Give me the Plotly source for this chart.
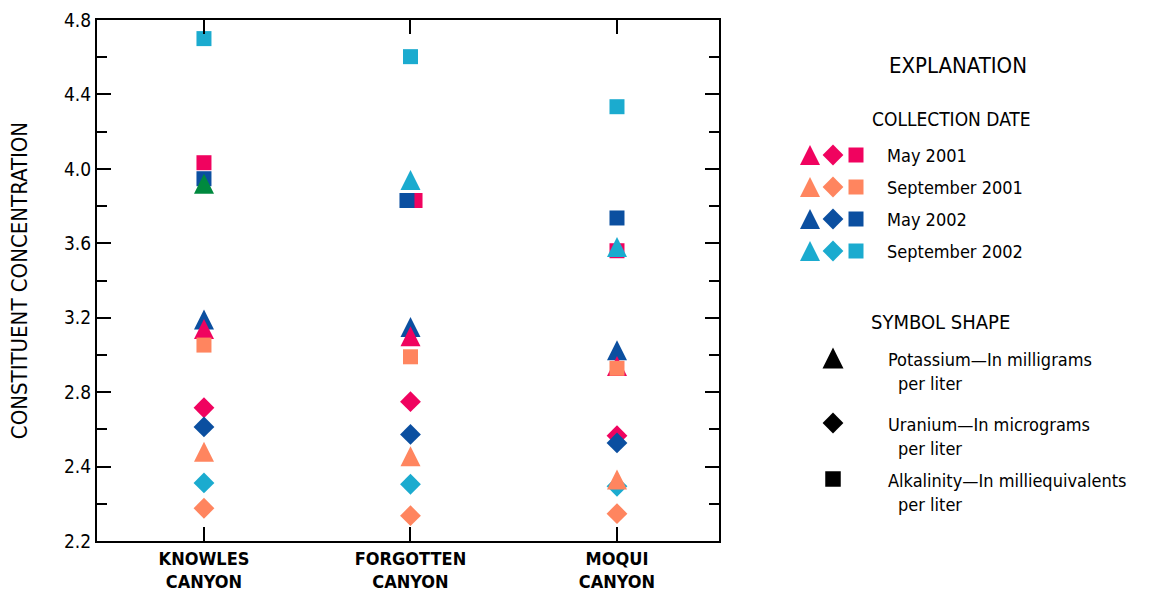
import plotly.graph_objects as go

# ---------------- data ----------------
canyons = ["KNOWLES<br>CANYON", "FORGOTTEN<br>CANYON", "MOQUI<br>CANYON"]
dates = ["May 2001", "September 2001", "May 2002", "September 2002"]
constituents = ["Potassium", "Uranium", "Alkalinity"]

# values for [Knowles, Forgotten, Moqui]
potassium_may_2001 = [3.14, 3.10, 2.94]
potassium_sep_2001 = [2.48, 2.455, 2.33]
potassium_may_2002 = [3.19, 3.15, 3.025]
potassium_sep_2002 = [3.92, 3.94, 3.58]

uranium_may_2001 = [2.716, 2.749, 2.566]
uranium_sep_2001 = [2.176, 2.136, 2.147]
uranium_may_2002 = [2.613, 2.573, 2.527]
uranium_sep_2002 = [2.312, 2.305, 2.294]

alkalinity_may_2001 = [4.033, 3.83, 3.56]
alkalinity_sep_2001 = [3.053, 2.99, 2.928]
alkalinity_may_2002 = [3.947, 3.83, 3.736]
alkalinity_sep_2002 = [4.70, 4.603, 4.334]

y_tick_values = [2.0, 2.4, 2.8, 3.2, 3.6, 4.0, 4.4, 4.8]
y_tick_labels = ["2.2", "2.4", "2.8", "3.2", "3.6", "4.0", "4.4", "4.8"]

legend_shape_labels = [
    ("Potassium\u2014In milligrams", "per liter"),
    ("Uranium\u2014In micrograms", "per liter"),
    ("Alkalinity\u2014In milliequivalents", "per liter"),
]

# ---------------- style ----------------
FONT = "DejaVu Sans Condensed, DejaVu Sans, sans-serif"
date_colors = {
    "May 2001": "#F0035F",
    "September 2001": "#FF855F",
    "May 2002": "#0B4FA0",
    "September 2002": "#1BABCF",
}
color_override = {("September 2002", "Potassium", 0): "#00893E"}
nudge = {("May 2002", "Alkalinity", 1): -0.017, ("May 2001", "Alkalinity", 1): 0.022}

TRI = dict(symbol="arrow-down", angle=180, size=20, standoff=10)
DIA = dict(symbol="diamond", size=16)
SQ = dict(symbol="square", size=15)
shape_style = {"Potassium": TRI, "Uranium": DIA, "Alkalinity": SQ}

rank = {
    ("May 2001", "Uranium"): 0, ("May 2002", "Uranium"): 1,
    ("September 2002", "Uranium"): 2, ("September 2001", "Uranium"): 3,
    ("May 2002", "Potassium"): 4, ("May 2001", "Potassium"): 5,
    ("September 2001", "Potassium"): 6, ("May 2002", "Alkalinity"): 7,
    ("May 2001", "Alkalinity"): 8, ("September 2001", "Alkalinity"): 9,
    ("September 2002", "Alkalinity"): 10, ("September 2002", "Potassium"): 11,
}
rank_override = {("May 2002", "Alkalinity", 1): 8.5}

series = {
    ("May 2001", "Potassium"): potassium_may_2001,
    ("September 2001", "Potassium"): potassium_sep_2001,
    ("May 2002", "Potassium"): potassium_may_2002,
    ("September 2002", "Potassium"): potassium_sep_2002,
    ("May 2001", "Uranium"): uranium_may_2001,
    ("September 2001", "Uranium"): uranium_sep_2001,
    ("May 2002", "Uranium"): uranium_may_2002,
    ("September 2002", "Uranium"): uranium_sep_2002,
    ("May 2001", "Alkalinity"): alkalinity_may_2001,
    ("September 2001", "Alkalinity"): alkalinity_sep_2001,
    ("May 2002", "Alkalinity"): alkalinity_may_2002,
    ("September 2002", "Alkalinity"): alkalinity_sep_2002,
}

points = []
for (date, cons), vals in series.items():
    for i, v in enumerate(vals):
        key = (date, cons, i)
        r = rank_override.get(key, rank[(date, cons)])
        points.append((r, date, cons, i, v))
points.sort(key=lambda p: p[0])

fig = go.Figure()
for r, date, cons, i, v in points:
    key = (date, cons, i)
    m = dict(shape_style[cons])
    m["color"] = color_override.get(key, date_colors[date])
    m["line"] = dict(width=0)
    fig.add_trace(go.Scatter(
        x=[i + nudge.get(key, 0.0)], y=[v], mode="markers", marker=m,
        showlegend=False, name=f"{cons} {date}",
        hovertemplate=f"{canyons[i].replace('<br>', ' ')}<br>{cons} {date}: %{{y}}<extra></extra>",
    ))

# ---------------- explanation (legend) on a pixel-like helper axis ----------------
legend_rows_y = [155, 187, 219, 251]
shape_rows_y = [358, 423, 479]
shape_x = [810, 833, 856]
for row_y, date in zip(legend_rows_y, dates):
    for sx, cons in zip(shape_x, constituents):
        m = dict(shape_style[cons])
        m["color"] = date_colors[date]
        m["line"] = dict(width=0)
        fig.add_trace(go.Scatter(x=[sx], y=[row_y], mode="markers", marker=m,
                                 xaxis="x2", yaxis="y2", showlegend=False, hoverinfo="skip"))
legend_black = [dict(symbol="arrow-down", angle=180, size=21, standoff=10.5),
                dict(symbol="diamond", size=16), dict(symbol="square", size=15.5)]
for row_y, m in zip(shape_rows_y, legend_black):
    m = dict(m)
    m["color"] = "black"
    m["line"] = dict(width=0)
    fig.add_trace(go.Scatter(x=[833], y=[row_y], mode="markers", marker=m,
                             xaxis="x2", yaxis="y2", showlegend=False, hoverinfo="skip"))

annotations = []
def txt(x, y, s, size=18, anchor="left"):
    annotations.append(dict(x=x, y=y, xref="x2", yref="y2", text=s, showarrow=False,
                            xanchor=anchor, yanchor="middle",
                            font=dict(family=FONT, size=size, color="black")))

txt(958, 65, "EXPLANATION", 22, "center")
txt(951, 119, "COLLECTION DATE", 19, "center")
for row_y, date in zip(legend_rows_y, dates):
    txt(885, row_y, date)
txt(940, 322, "SYMBOL SHAPE", 20, "center")
for row_y, (l1, l2) in zip(shape_rows_y, legend_shape_labels):
    txt(886, row_y + 1, l1)
    txt(896, row_y + 25, l2)

fig.update_layout(
    width=1151, height=592,
    margin=dict(l=97, r=0, t=20, b=51),
    paper_bgcolor="white", plot_bgcolor="rgba(0,0,0,0)",
    font=dict(family=FONT, color="black"),
    annotations=annotations,
    xaxis=dict(
        domain=[0, 622 / 1054], range=[-0.518, 2.494], automargin=False,
        tickmode="array", tickvals=[0, 1, 2], ticktext=canyons,
        ticks="inside", ticklen=14, tickwidth=2, tickcolor="black",
        showline=True, linewidth=2, linecolor="black", mirror="ticks",
        showgrid=False, zeroline=False, ticklabelstandoff=0,
        tickfont=dict(family=FONT, size=18, color="black", weight="bold"),
    ),
    yaxis=dict(
        range=[2.0, 4.8], automargin=False,
        tickmode="array", tickvals=y_tick_values, ticktext=y_tick_labels,
        ticks="inside", ticklen=14, tickwidth=2, tickcolor="black",
        minor=dict(dtick=0.2, tick0=2.0, ticks="inside", ticklen=10, tickwidth=2, tickcolor="black"),
        showline=True, linewidth=2, linecolor="black", mirror="ticks",
        showgrid=False, zeroline=False,
        tickfont=dict(family=FONT, size=19, color="black"),
        title=dict(text="CONSTITUENT CONCENTRATION", font=dict(family=FONT, size=22, color="black"), standoff=30),
    ),
    xaxis2=dict(domain=[0, 1], range=[97, 1151], visible=False, anchor="y2", fixedrange=True),
    yaxis2=dict(domain=[0, 1], range=[541, 20], visible=False, anchor="x2", fixedrange=True),
)

fig.write_html("out.html")
